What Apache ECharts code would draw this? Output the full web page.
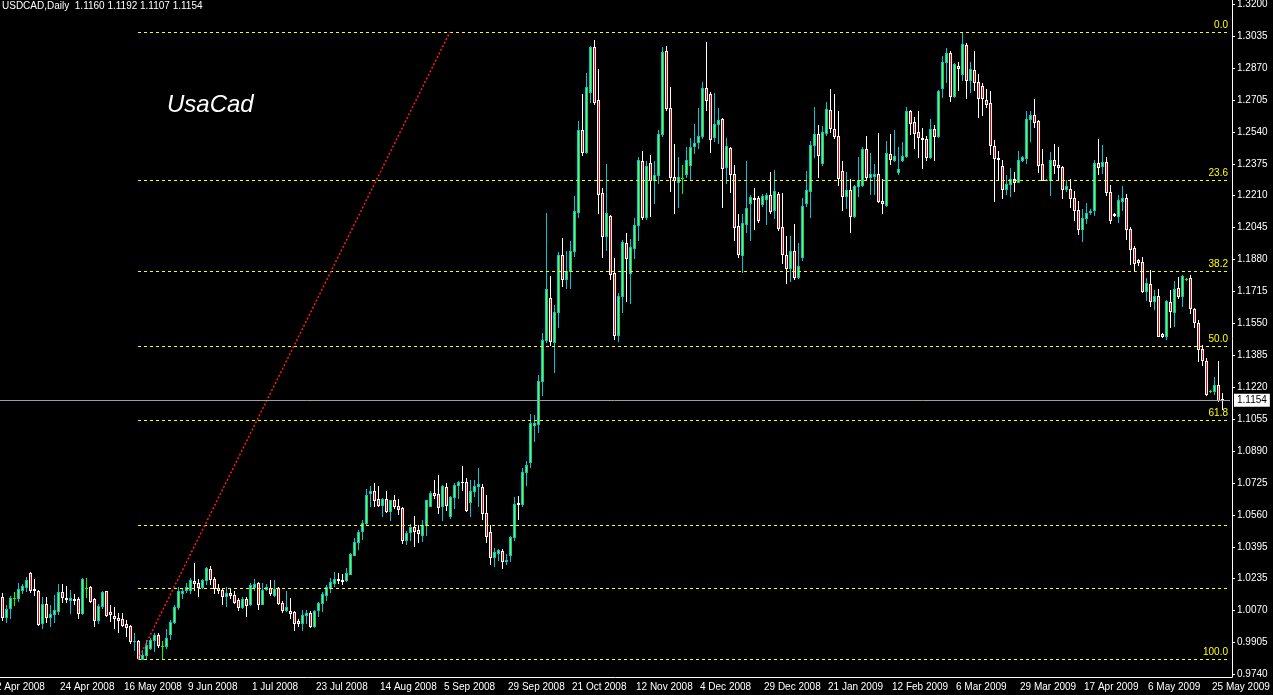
<!DOCTYPE html>
<html>
<head>
<meta charset="utf-8">
<script src="https://cdn.jsdelivr.net/npm/echarts@6/dist/echarts.min.js"></script>
<style>
  html, body { margin: 0; padding: 0; background: #000; }
  #main { width: 1273px; height: 695px; }
</style>
</head>
<body>
<div id="main"></div>
<script>
// daily bars: weekdays, a few closed days, and sunday bars once the broker started them
var firstDay = Date.UTC(2008, 3, 2);
var lastDay = Date.UTC(2009, 4, 28);
var closedDays = ["2008-12-25", "2009-01-01", "2009-04-10"];
var sundayBarsFrom = "2009-03-29";
var monthNames = ["Jan", "Feb", "Mar", "Apr", "May", "Jun", "Jul", "Aug", "Sep", "Oct", "Nov", "Dec"];

// [open, close, low, high] per bar; first two bars are off screen
var ohlc = [
  "-", "-",
  [1.0138, 1.0035, 1.0018, 1.0159], [1.0035, 1.0076, 1.0008, 1.0095], [1.0082, 1.0133, 1.0030, 1.0145],
  [1.0133, 1.0133, 1.0095, 1.0166], [1.0133, 1.0180, 1.0119, 1.0211], [1.0176, 1.0193, 1.0156, 1.0207],
  [1.0190, 1.0228, 1.0168, 1.0242], [1.0263, 1.0173, 1.0164, 1.0269], [1.0180, 1.0173, 1.0150, 1.0233],
  [1.0168, 0.9996, 0.9992, 1.0176], [1.0001, 1.0099, 0.9977, 1.0137], [1.0104, 1.0035, 1.0011, 1.0138],
  [1.0035, 1.0052, 0.9987, 1.0097], [1.0051, 1.0068, 1.0009, 1.0150], [1.0065, 1.0164, 1.0051, 1.0207],
  [1.0164, 1.0137, 1.0111, 1.0207], [1.0133, 1.0125, 1.0111, 1.0197], [1.0121, 1.0130, 1.0056, 1.0176],
  [1.0128, 1.0123, 1.0099, 1.0152], [1.0125, 1.0056, 1.0028, 1.0138], [1.0056, 1.0233, 1.0052, 1.0237],
  [1.0185, 1.0185, 1.0137, 1.0237], [1.0188, 1.0116, 1.0111, 1.0193], [1.0125, 1.0018, 0.9987, 1.0133],
  [1.0021, 1.0090, 1.0001, 1.0099], [1.0090, 1.0164, 1.0082, 1.0171], [1.0168, 1.0047, 1.0039, 1.0171],
  [1.0059, 1.0052, 1.0013, 1.0094], [1.0039, 1.0028, 0.9978, 1.0087], [1.0030, 1.0018, 0.9956, 1.0056],
  [1.0025, 0.9994, 0.9987, 1.0056], [0.9996, 0.9984, 0.9935, 1.0021], [0.9987, 0.9908, 0.9901, 0.9994],
  [0.9908, 0.9913, 0.9863, 0.9953], [0.9913, 0.9822, 0.9818, 0.9918], [0.9820, 0.9839, 0.9815, 0.9863],
  [0.9836, 0.9889, 0.9824, 0.9918], [0.9875, 0.9918, 0.9870, 0.9927], [0.9915, 0.9939, 0.9858, 0.9953],
  [0.9939, 0.9891, 0.9880, 0.9953], [0.9887, 0.9887, 0.9815, 0.9913], [0.9884, 0.9927, 0.9875, 0.9973],
  [0.9944, 1.0009, 0.9922, 1.0021], [1.0008, 1.0085, 1.0001, 1.0094], [1.0085, 1.0168, 1.0076, 1.0190],
  [1.0159, 1.0171, 1.0133, 1.0185], [1.0176, 1.0190, 1.0162, 1.0211], [1.0176, 1.0223, 1.0159, 1.0237],
  [1.0218, 1.0211, 1.0173, 1.0314], [1.0211, 1.0190, 1.0142, 1.0233], [1.0190, 1.0228, 1.0185, 1.0233],
  [1.0228, 1.0288, 1.0207, 1.0293], [1.0283, 1.0233, 1.0207, 1.0297], [1.0232, 1.0185, 1.0159, 1.0242],
  [1.0185, 1.0173, 1.0159, 1.0207], [1.0173, 1.0145, 1.0099, 1.0185], [1.0145, 1.0156, 1.0090, 1.0190],
  [1.0159, 1.0149, 1.0133, 1.0180], [1.0149, 1.0111, 1.0107, 1.0168], [1.0121, 1.0087, 1.0073, 1.0133],
  [1.0087, 1.0128, 1.0082, 1.0137], [1.0125, 1.0097, 1.0039, 1.0138], [1.0102, 1.0202, 1.0094, 1.0211],
  [1.0188, 1.0207, 1.0176, 1.0232], [1.0211, 1.0102, 1.0078, 1.0214], [1.0102, 1.0173, 1.0099, 1.0211],
  [1.0180, 1.0190, 1.0176, 1.0207], [1.0185, 1.0159, 1.0150, 1.0228], [1.0150, 1.0181, 1.0142, 1.0223],
  [1.0185, 1.0107, 1.0099, 1.0188], [1.0107, 1.0073, 1.0061, 1.0116], [1.0073, 1.0087, 1.0065, 1.0171],
  [1.0066, 1.0056, 1.0030, 1.0133], [1.0061, 1.0001, 0.9966, 1.0065], [1.0013, 1.0004, 0.9987, 1.0025],
  [1.0004, 1.0047, 0.9966, 1.0073], [1.0047, 1.0056, 1.0004, 1.0073], [1.0056, 0.9987, 0.9982, 1.0065],
  [0.9987, 1.0065, 0.9982, 1.0073], [1.0070, 1.0107, 1.0039, 1.0113],
  [1.0108, 1.0151, 1.0065, 1.0163], [1.0147, 1.0190, 1.0122, 1.0202], [1.0185, 1.0216, 1.0163, 1.0237],
  [1.0211, 1.0232, 1.0197, 1.0269], [1.0233, 1.0226, 1.0211, 1.0263], [1.0226, 1.0220, 1.0206, 1.0259],
  [1.0225, 1.0263, 1.0220, 1.0288], [1.0257, 1.0362, 1.0254, 1.0366], [1.0357, 1.0423, 1.0352, 1.0443],
  [1.0423, 1.0474, 1.0388, 1.0486], [1.0478, 1.0521, 1.0435, 1.0533], [1.0521, 1.0662, 1.0517, 1.0693],
  [1.0675, 1.0687, 1.0607, 1.0713], [1.0687, 1.0641, 1.0607, 1.0724], [1.0644, 1.0612, 1.0607, 1.0710],
  [1.0615, 1.0646, 1.0555, 1.0650], [1.0644, 1.0584, 1.0576, 1.0687], [1.0584, 1.0636, 1.0533, 1.0641],
  [1.0641, 1.0607, 1.0598, 1.0662], [1.0607, 1.0593, 1.0564, 1.0646], [1.0598, 1.0431, 1.0417, 1.0603],
  [1.0431, 1.0466, 1.0409, 1.0478], [1.0472, 1.0500, 1.0431, 1.0517], [1.0500, 1.0478, 1.0400, 1.0558],
  [1.0483, 1.0469, 1.0421, 1.0507], [1.0460, 1.0507, 1.0426, 1.0533], [1.0507, 1.0636, 1.0460, 1.0641],
  [1.0607, 1.0675, 1.0607, 1.0687], [1.0675, 1.0663, 1.0650, 1.0744], [1.0667, 1.0603, 1.0569, 1.0770],
  [1.0607, 1.0710, 1.0534, 1.0718], [1.0706, 1.0612, 1.0589, 1.0724], [1.0555, 1.0653, 1.0546, 1.0658],
  [1.0655, 1.0718, 1.0598, 1.0724], [1.0715, 1.0732, 1.0650, 1.0736], [1.0732, 1.0729, 1.0689, 1.0816],
  [1.0732, 1.0589, 1.0581, 1.0753], [1.0629, 1.0684, 1.0558, 1.0744], [1.0684, 1.0710, 1.0658, 1.0744],
  [1.0713, 1.0720, 1.0607, 1.0804], [1.0706, 1.0572, 1.0541, 1.0722], [1.0572, 1.0452, 1.0421, 1.0662],
  [1.0474, 1.0345, 1.0306, 1.0512], [1.0345, 1.0369, 1.0297, 1.0392], [1.0366, 1.0378, 1.0331, 1.0386],
  [1.0374, 1.0323, 1.0288, 1.0386], [1.0326, 1.0331, 1.0306, 1.0362], [1.0354, 1.0448, 1.0323, 1.0455],
  [1.0448, 1.0620, 1.0431, 1.0653], [1.0624, 1.0619, 1.0538, 1.0658], [1.0620, 1.0782, 1.0610, 1.0804],
  [1.0782, 1.0818, 1.0718, 1.0839],
  [1.0834, 1.1037, 1.0810, 1.1085], [1.1028, 1.1037, 1.0942, 1.1080], [1.1033, 1.1255, 1.0988, 1.1286],
  [1.1255, 1.1467, 1.1179, 1.1501], [1.1463, 1.1728, 1.1453, 1.2123], [1.1682, 1.1458, 1.1441, 1.1793],
  [1.1455, 1.1609, 1.1298, 1.1647], [1.1609, 1.1905, 1.1530, 1.1917], [1.1905, 1.1779, 1.1745, 1.1991],
  [1.1779, 1.1819, 1.1733, 1.1926], [1.1819, 1.1922, 1.1733, 1.1977], [1.1922, 1.2129, 1.1900, 1.2206],
  [1.2124, 1.2550, 1.2098, 1.2598], [1.2550, 1.2438, 1.2421, 1.2736], [1.2438, 1.2770, 1.2430, 1.2842],
  [1.2743, 1.2977, 1.2696, 1.2983], [1.2977, 1.2696, 1.2684, 1.3014], [1.2705, 1.2218, 1.2120, 1.2863],
  [1.2223, 1.2000, 1.1891, 1.2249], [1.2000, 1.2120, 1.1931, 1.2375], [1.2106, 1.1805, 1.1779, 1.2111],
  [1.1810, 1.1492, 1.1470, 1.1888], [1.1492, 1.1693, 1.1458, 1.1707], [1.1693, 1.1970, 1.1607, 1.1982],
  [1.1965, 1.1888, 1.1664, 1.2017], [1.1810, 1.1945, 1.1656, 1.1986], [1.1939, 1.2060, 1.1888, 1.2094],
  [1.2060, 1.2392, 1.1979, 1.2412], [1.2387, 1.2098, 1.2091, 1.2442], [1.2098, 1.2364, 1.2090, 1.2387],
  [1.2378, 1.2292, 1.2103, 1.2421], [1.2292, 1.2318, 1.2172, 1.2387], [1.2318, 1.2528, 1.2278, 1.2550],
  [1.2528, 1.2954, 1.2519, 1.2977], [1.2959, 1.2662, 1.2653, 1.2983], [1.2662, 1.2309, 1.2232, 1.2770],
  [1.2306, 1.2289, 1.2120, 1.2478], [1.2283, 1.2309, 1.2154, 1.2412], [1.2301, 1.2301, 1.2223, 1.2369],
  [1.2323, 1.2392, 1.2306, 1.2464], [1.2369, 1.2464, 1.2295, 1.2507], [1.2467, 1.2481, 1.2430, 1.2581],
  [1.2485, 1.2519, 1.2455, 1.2662], [1.2519, 1.2765, 1.2507, 1.2799], [1.2765, 1.2705, 1.2653, 1.3002],
  [1.2736, 1.2502, 1.2438, 1.2748], [1.2512, 1.2579, 1.2495, 1.2739], [1.2579, 1.2602, 1.2481, 1.2662],
  [1.2605, 1.2352, 1.2154, 1.2610], [1.2357, 1.2469, 1.2278, 1.2507], [1.2455, 1.2321, 1.2227, 1.2464],
  [1.2321, 1.2048, 1.1979, 1.2369], [1.2056, 1.1908, 1.1896, 1.2117],
  [1.1905, 1.2068, 1.1814, 1.2117], [1.2063, 1.2146, 1.2025, 1.2390], [1.2172, 1.2203, 1.1979, 1.2215],
  [1.2197, 1.2194, 1.2039, 1.2249], [1.2197, 1.2086, 1.2072, 1.2209], [1.2168, 1.2206, 1.2158, 1.2220],
  [1.2192, 1.2213, 1.2063, 1.2223], [1.2215, 1.2129, 1.2123, 1.2332], [1.2137, 1.2232, 1.2094, 1.2344],
  [1.2220, 1.2043, 1.2034, 1.2227], [1.2048, 1.1908, 1.1862, 1.2223], [1.1905, 1.1836, 1.1759, 1.2000],
  [1.1836, 1.1922, 1.1767, 1.2000], [1.1926, 1.1790, 1.1779, 1.2065], [1.1790, 1.1848, 1.1785, 1.1965],
  [1.1893, 1.2158, 1.1876, 1.2197], [1.2172, 1.2240, 1.2158, 1.2340], [1.2232, 1.2473, 1.2099, 1.2490],
  [1.2473, 1.2529, 1.2409, 1.2670], [1.2529, 1.2421, 1.2309, 1.2576], [1.2378, 1.2541, 1.2369, 1.2571],
  [1.2536, 1.2657, 1.2524, 1.2696], [1.2653, 1.2559, 1.2541, 1.2760], [1.2555, 1.2516, 1.2507, 1.2736],
  [1.2519, 1.2304, 1.2266, 1.2650], [1.2338, 1.2211, 1.2137, 1.2387], [1.2206, 1.2240, 1.2146, 1.2330],
  [1.2240, 1.2103, 1.2022, 1.2295], [1.2103, 1.2261, 1.2100, 1.2264], [1.2258, 1.2292, 1.2206, 1.2412],
  [1.2263, 1.2452, 1.2258, 1.2464], [1.2452, 1.2309, 1.2289, 1.2519], [1.2309, 1.2323, 1.2220, 1.2430],
  [1.2313, 1.2323, 1.2220, 1.2375], [1.2323, 1.2184, 1.2177, 1.2536], [1.2184, 1.2172, 1.2123, 1.2295],
  [1.2163, 1.2430, 1.2158, 1.2490], [1.2426, 1.2399, 1.2375, 1.2529], [1.2392, 1.2416, 1.2387, 1.2547],
  [1.2330, 1.2347, 1.2323, 1.2464], [1.2392, 1.2416, 1.2387, 1.2485], [1.2416, 1.2645, 1.2412, 1.2670],
  [1.2645, 1.2588, 1.2529, 1.2653], [1.2590, 1.2536, 1.2455, 1.2615], [1.2541, 1.2512, 1.2412, 1.2650],
  [1.2507, 1.2502, 1.2352, 1.2559], [1.2504, 1.2412, 1.2392, 1.2519], [1.2409, 1.2553, 1.2404, 1.2605],
  [1.2553, 1.2519, 1.2392, 1.2576], [1.2516, 1.2753, 1.2512, 1.2756], [1.2765, 1.2903, 1.2719, 1.2932],
  [1.2903, 1.2946, 1.2799, 1.2971], [1.2946, 1.2727, 1.2701, 1.2959], [1.2727, 1.2891, 1.2722, 1.2894],
  [1.2882, 1.2868, 1.2756, 1.2903], [1.2837, 1.2992, 1.2808, 1.3057], [1.2989, 1.2805, 1.2717, 1.2997],
  [1.2805, 1.2863, 1.2748, 1.2899], [1.2860, 1.2796, 1.2756, 1.2958], [1.2796, 1.2713, 1.2619, 1.2837],
  [1.2777, 1.2713, 1.2627, 1.2794],
  [1.2705, 1.2684, 1.2670, 1.2760], [1.2688, 1.2473, 1.2426, 1.2751], [1.2467, 1.2404, 1.2185, 1.2498],
  [1.2406, 1.2399, 1.2292, 1.2443], [1.2361, 1.2244, 1.2197, 1.2395], [1.2244, 1.2271, 1.2220, 1.2318],
  [1.2271, 1.2295, 1.2211, 1.2352], [1.2295, 1.2283, 1.2232, 1.2335], [1.2283, 1.2395, 1.2280, 1.2443],
  [1.2392, 1.2409, 1.2387, 1.2416], [1.2404, 1.2607, 1.2378, 1.2645], [1.2605, 1.2627, 1.2495, 1.2650],
  [1.2627, 1.2590, 1.2564, 1.2710], [1.2598, 1.2369, 1.2330, 1.2602], [1.2373, 1.2292, 1.2289, 1.2452],
  [1.2292, 1.2292, 1.2289, 1.2295], [1.2292, 1.2395, 1.2215, 1.2438], [1.2395, 1.2366, 1.2326, 1.2478],
  [1.2369, 1.2357, 1.2295, 1.2464], [1.2357, 1.2244, 1.2197, 1.2364], [1.2244, 1.2258, 1.2232, 1.2292],
  [1.2244, 1.2197, 1.2154, 1.2295], [1.2197, 1.2134, 1.2086, 1.2232], [1.2134, 1.2039, 1.2013, 1.2185],
  [1.2039, 1.2094, 1.1974, 1.2141], [1.2094, 1.2123, 1.2068, 1.2172], [1.2127, 1.2132, 1.2117, 1.2141],
  [1.2134, 1.2378, 1.2111, 1.2395], [1.2378, 1.2356, 1.2321, 1.2504], [1.2361, 1.2383, 1.2326, 1.2473],
  [1.2383, 1.2227, 1.2215, 1.2412], [1.2228, 1.2086, 1.2068, 1.2266], [1.2115, 1.2108, 1.2103, 1.2120],
  [1.2106, 1.2189, 1.2072, 1.2215], [1.2185, 1.2197, 1.2137, 1.2261], [1.2197, 1.2039, 1.1986, 1.2220],
  [1.2039, 1.1934, 1.1859, 1.2046], [1.1939, 1.1862, 1.1824, 1.1948], [1.1876, 1.1867, 1.1853, 1.1883],
  [1.1867, 1.1716, 1.1713, 1.1891], [1.1716, 1.1759, 1.1669, 1.1785], [1.1755, 1.1664, 1.1638, 1.1824],
  [1.1664, 1.1690, 1.1625, 1.1724], [1.1690, 1.1487, 1.1484, 1.1728], [1.1496, 1.1487, 1.1482, 1.1501],
  [1.1487, 1.1664, 1.1470, 1.1669], [1.1661, 1.1613, 1.1530, 1.1724], [1.1607, 1.1728, 1.1539, 1.1767],
  [1.1733, 1.1690, 1.1681, 1.1788], [1.1690, 1.1797, 1.1642, 1.1802], [1.1781, 1.1781, 1.1776, 1.1785],
  [1.1785, 1.1630, 1.1604, 1.1802], [1.1625, 1.1556, 1.1532, 1.1630], [1.1552, 1.1418, 1.1358, 1.1570],
  [1.1418, 1.1360, 1.1337, 1.1441], [1.1358, 1.1186, 1.1179, 1.1372], [1.1203, 1.1203, 1.1198, 1.1208],
  [1.1200, 1.1234, 1.1186, 1.1274], [1.1234, 1.1157, 1.1152, 1.1355], [1.1160, 1.1154, 1.1107, 1.1192]
];

// price scale labels on the right
var yTickLabels = ["1.3200", "1.3035", "1.2870", "1.2705", "1.2540", "1.2375", "1.2210", "1.2045",
  "1.1880", "1.1715", "1.1550", "1.1385", "1.1220", "1.1055", "1.0890", "1.0725", "1.0560",
  "1.0395", "1.0235", "1.0070", "0.9905", "0.9740"];

// fibonacci retracement drawn from the may 2008 low to the top
var fibHigh = 1.3056;
var fibLow = 0.9814;
var fibLevels = [0, 23.6, 38.2, 50, 61.8, 78.6, 88.6, 100];
var fibTexts = ["0.0", "23.6", "38.2", "50.0", "61.8", "", "", "100.0"];
var fibFromBar = 36;
var fibToBar = 114;

var dateLabels = [];
for (var t = firstDay; t <= lastDay; t += 86400000) {
  var d = new Date(t);
  var iso = d.toISOString().slice(0, 10);
  var wd = d.getUTCDay();
  if (closedDays.indexOf(iso) >= 0) continue;
  if (wd === 6) continue;
  if (wd === 0 && iso < sundayBarsFrom) continue;
  dateLabels.push(d.getUTCDate() + " " + monthNames[d.getUTCMonth()] + " " + d.getUTCFullYear());
}
// empty space on the right of the last bar
dateLabels.push("", "");
var lastBarSlot = dateLabels.length - 1;

var candleRows = [];
ohlc.forEach(function (r, i) {
  if (r !== "-") candleRows.push([i, r[0], r[1], r[2], r[3]]);
});

var last = ohlc[ohlc.length - 1];
var titleText = "USDCAD,Daily  " + [last[0], last[3], last[2], last[1]].map(function (v) {
  return v.toFixed(4);
}).join(" ");

var font = "Liberation Sans";
var fibColor = "#ffff00";
var bullEdge = "#00c8d2";
var bullFill = "#7cfc00";
var bearEdge = "#ffffff";
var bearFill = "#ff0000";
var dojiColor = "#00ff00";

// mt4 style candle: 1px wick, 3px body with a 1px outline
function renderCandle(params, api) {
  var i = api.value(0);
  var o = api.value(1), c = api.value(2);
  var pO = api.coord([i, o]);
  var pC = api.coord([i, c]);
  var pL = api.coord([i, api.value(3)]);
  var pH = api.coord([i, api.value(4)]);
  var cx = Math.round(pO[0]);
  var yTop = Math.round(Math.min(pO[1], pC[1]));
  var yBot = Math.round(Math.max(pO[1], pC[1]));
  var yH = Math.round(pH[1]);
  var yL = Math.round(pL[1]);
  var edge = c > o ? bullEdge : (c < o ? bearEdge : dojiColor);
  var children = [
    { type: "rect", shape: { x: cx, y: yH, width: 1, height: yL - yH + 1 }, style: { fill: edge } },
    { type: "rect", shape: { x: cx - 1, y: yTop, width: 3, height: yBot - yTop + 1 }, style: { fill: edge } }
  ];
  if (yBot - yTop >= 2) {
    children.push({
      type: "rect",
      shape: { x: cx, y: yTop + 1, width: 1, height: yBot - yTop - 1 },
      style: { fill: c > o ? bullFill : bearFill }
    });
  }
  return { type: "group", children: children };
}

var markLines = fibLevels.map(function (lv, i) {
  var v = fibHigh - (fibHigh - fibLow) * lv / 100;
  return [
    {
      coord: [fibFromBar, v],
      lineStyle: { color: fibColor, type: [3, 3], width: 1 },
      label: {
        show: fibTexts[i] !== "",
        position: "insideEndTop",
        formatter: fibTexts[i],
        color: fibColor,
        fontSize: 10,
        fontFamily: font,
        distance: 2
      }
    },
    { coord: [lastBarSlot, v] }
  ];
});
// diagonal of the retracement tool
markLines.push([
  {
    coord: [fibFromBar, fibLow],
    lineStyle: { color: "#ff1a1a", type: [2, 2], width: 1.5 },
    label: { show: false }
  },
  { coord: [fibToBar, fibHigh] }
]);
// current bid line with its price box on the scale
markLines.push([
  {
    coord: [0, last[1]],
    lineStyle: { color: "#9aa0a8", type: "solid", width: 1 },
    label: {
      show: true,
      position: "end",
      formatter: last[1].toFixed(4),
      color: "#000",
      backgroundColor: "#fff",
      padding: [2, 3, 1, 3],
      fontSize: 10,
      fontFamily: font,
      distance: 4
    }
  },
  { coord: [lastBarSlot, last[1]] }
]);

var chart = echarts.init(document.getElementById("main"));
var option = {
  backgroundColor: "#000",
  animation: false,
  title: [
    {
      text: titleText,
      left: 2,
      top: 1,
      padding: 0,
      textStyle: { color: "#fff", fontSize: 10, fontWeight: "normal", fontFamily: font }
    },
    {
      text: "UsaCad",
      left: 167,
      top: 93,
      padding: 0,
      textStyle: { color: "#fff", fontSize: 24, fontWeight: "normal", fontStyle: "italic", fontFamily: font }
    }
  ],
  grid: {
    left: -8,
    right: 41,
    top: 0,
    bottom: 18,
    containLabel: false,
    outerBoundsMode: "none"
  },
  xAxis: {
    type: "category",
    data: dateLabels,
    boundaryGap: true,
    axisLine: { lineStyle: { color: "#fff", width: 1 } },
    axisTick: {
      interval: 15,
      alignWithLabel: true,
      length: 4,
      lineStyle: { color: "#fff" }
    },
    axisLabel: {
      interval: 15,
      color: "#fff",
      fontSize: 10,
      fontFamily: font,
      align: "left",
      margin: 5,
      padding: [0, 0, 0, 2]
    },
    splitLine: { show: false }
  },
  yAxis: {
    type: "value",
    position: "right",
    // 1.3200 sits 4px under the top, 0.9740 3px over the time axis
    min: 0.972451,
    max: 1.322066,
    splitLine: { show: false },
    axisLine: { show: true, lineStyle: { color: "#fff", width: 1 } },
    axisTick: {
      show: true,
      length: 3,
      customValues: yTickLabels.map(Number),
      lineStyle: { color: "#fff" }
    },
    axisLabel: {
      customValues: yTickLabels.map(Number),
      color: "#fff",
      fontSize: 10,
      fontFamily: font,
      margin: 5,
      formatter: function (v) {
        return v.toFixed(4);
      }
    }
  },
  series: [
    {
      type: "custom",
      name: "USDCAD",
      data: candleRows,
      encode: { x: 0, y: [1, 2, 3, 4] },
      renderItem: renderCandle,
      silent: true
    },
    {
      type: "line",
      name: "levels",
      data: [],
      silent: true,
      markLine: {
        silent: true,
        symbol: ["none", "none"],
        animation: false,
        data: markLines
      }
    }
  ]
};
chart.setOption(option);
</script>
</body>
</html>
